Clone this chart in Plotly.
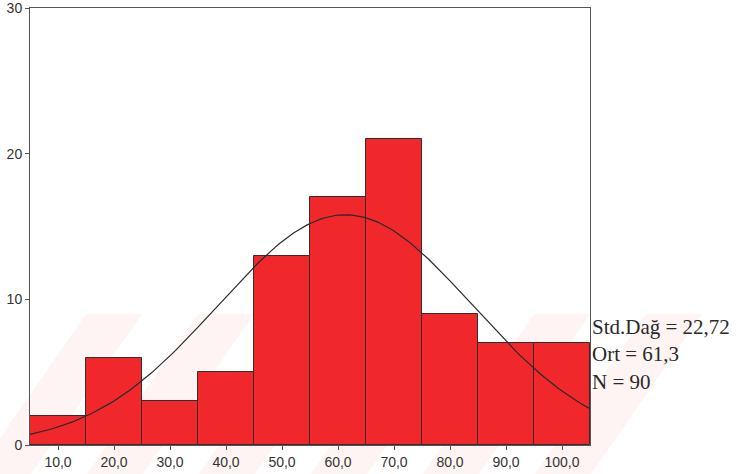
import numpy as np
import plotly.graph_objects as go

# Data
bin_centers = [10, 20, 30, 40, 50, 60, 70, 80, 90, 100]
counts = [2, 6, 3, 5, 13, 17, 21, 9, 7, 7]
bin_width = 10
tick_labels = ["10,0", "20,0", "30,0", "40,0", "50,0", "60,0", "70,0", "80,0", "90,0", "100,0"]
y_ticks = [0, 10, 20, 30]
std_dev = 22.72
mean = 61.3
n_total = 90

# Normal curve fitted with the chart's own statistics
xs = np.linspace(5, 105, 201)
ys = n_total * bin_width / (std_dev * np.sqrt(2 * np.pi)) * np.exp(-0.5 * ((xs - mean) / std_dev) ** 2)

fig = go.Figure()

# Faint watermark bands (scan artifact)
band_color = "rgba(240,60,70,0.06)"
for x0 in [-0.10, 0.10, 0.30, 0.50, 0.70, 0.90]:
    fig.add_shape(type="path", xref="paper", yref="paper",
                  path=f"M {x0} -0.07 L {x0+0.10} -0.07 L {x0+0.30} 0.30 L {x0+0.20} 0.30 Z",
                  fillcolor=band_color, line=dict(width=0), layer="below")

fig.add_trace(go.Bar(
    x=bin_centers, y=counts, width=bin_width,
    marker=dict(color="#f0282c", line=dict(color="#3a2a2a", width=1)),
    hoverinfo="x+y", showlegend=False,
))
fig.add_trace(go.Scatter(
    x=xs, y=ys, mode="lines",
    line=dict(color="#2a2a2a", width=1.2), showlegend=False,
))

fig.add_annotation(
    x=1.0, xref="paper", xanchor="left",
    y=(445 - 313) / 14.55, yref="y", yanchor="top",
    text=f"Std.Dağ = {str(std_dev).replace('.', ',')}<br>Ort = {str(mean).replace('.', ',')}<br>N = {n_total}",
    showarrow=False, align="left",
    font=dict(family="Liberation Serif", size=21, color="#2a2a2a"),
)

fig.update_layout(
    width=745, height=474,
    margin=dict(l=30, r=155, t=8, b=29),
    paper_bgcolor="white", plot_bgcolor="rgba(0,0,0,0)",
    bargap=0,
    font=dict(family="Liberation Sans", size=14, color="#333333"),
)
fig.update_xaxes(
    range=[5, 105], tickvals=bin_centers, ticktext=tick_labels,
    ticks="outside", ticklen=4, tickcolor="#555555",
    showline=True, linecolor="#555555", linewidth=1, mirror=True,
    showgrid=False, zeroline=False, automargin=False, ticklabeloverflow="allow",
)
fig.update_yaxes(
    range=[0, 30], tickvals=y_ticks,
    ticks="outside", ticklen=4, tickcolor="#555555",
    showline=True, linecolor="#555555", linewidth=1, mirror=True,
    showgrid=False, zeroline=False, automargin=False, ticklabeloverflow="allow",
)

fig.write_html("out.html", config={"displayModeBar": False},
               post_script="document.body.style.margin='0';document.body.style.overflow='hidden';")
